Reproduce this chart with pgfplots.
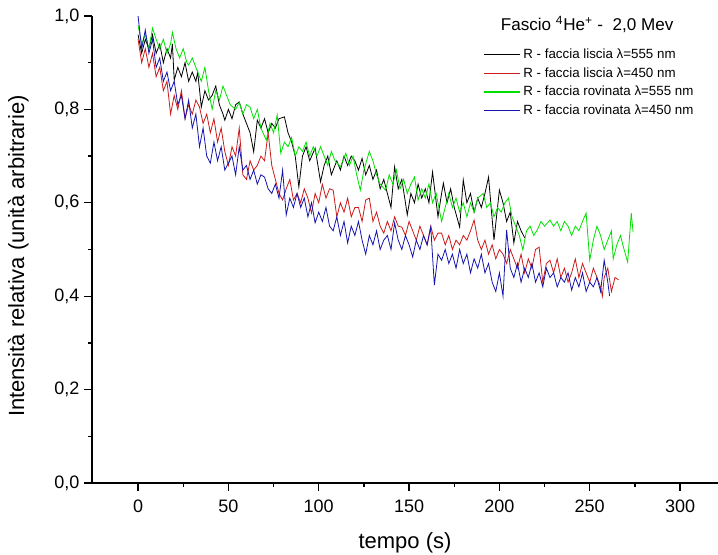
\documentclass[border=0pt]{standalone}
\usepackage{fontspec}
\setmainfont{Liberation Sans}
\usepackage{pgfplots}
\pgfplotsset{compat=1.18}
\definecolor{cblack}{RGB}{0,0,0}
\definecolor{cred}{RGB}{205,25,25}
\definecolor{cgreen}{RGB}{0,225,0}
\definecolor{cblue}{RGB}{20,20,175}
\begin{document}
\begin{tikzpicture}
\useasboundingbox (-69pt,-54pt) rectangle (469.5pt,362.25pt);
\begin{axis}[
  scale only axis, width=469.5pt, height=350.25pt,
  at={(0,0)}, anchor=south west,
  xmin=-25.5, xmax=321, ymin=0, ymax=1,
  axis x line*=bottom, axis y line*=left,
  axis line style={line width=1.2pt},
  xtick={0,50,100,150,200,250,300},
  ytick={0,0.2,0.4,0.6,0.8,1.0},
  minor x tick num=1, minor y tick num=1,
  xtick pos=left, ytick pos=left,
  tick align=outside,
  major tick length=6pt, minor tick length=3pt,
  every tick/.style={black, line width=1pt},
  /pgf/number format/assume math mode=true,
  yticklabel style={/pgf/number format/.cd, use comma, fixed, fixed zerofill, precision=1},
  ticklabel style={font=\fontsize{13.5}{15}\selectfont},
  xticklabel style={yshift=-3pt},
  xlabel={tempo (s)},
  ylabel={Intensità relativa (unità arbitrarie)},
  label style={font=\fontsize{16.5}{19}\selectfont},
  xlabel style={at={(axis description cs:0.5,0)}, anchor=north, yshift=-34pt},
  ylabel style={at={(axis description cs:0,0.5)}, anchor=south, yshift=44pt, xshift=-5pt},
  clip=false,
  legend style={at={(rel axis cs:0.625,0.936)}, anchor=north west, draw=none, fill=none,
    font=\fontsize{10}{11}\selectfont, row sep=1.3pt, inner sep=0pt},
  legend cell align=left,
  legend image code/.code={\draw[#1, line width=0.9pt] plot coordinates {(0pt,0pt) (27pt,0pt)};},
]
\addplot[cblack, line width=0.6pt] coordinates {
(0,0.96)(2,0.92)(4,0.95)(6,0.93)(8,0.96)(10,0.92)(12,0.94)(14,0.90)(16,0.93)(18,0.91)(19,0.94)(20,0.863)
(22,0.89)(24,0.87)(26,0.90)(28,0.86)(30,0.88)(32,0.86)(33,0.88)(35,0.805)(37,0.84)(39,0.82)(41,0.83)(43,0.85)
(45,0.81)(47,0.79)(48,0.777)(50,0.80)(52,0.78)(54,0.81)(56,0.816)(58,0.79)(60,0.77)(62,0.75)(64,0.709)(66,0.777)
(68,0.76)(70,0.78)(72,0.75)(74,0.77)(76,0.76)(78,0.78)(81,0.784)(83,0.75)(85,0.73)(87,0.70)(89,0.634)(91,0.70)
(93,0.72)(95,0.69)(98,0.717)(101,0.645)(103,0.68)(105,0.70)(107,0.66)(110,0.69)(112,0.67)(114,0.70)(116,0.68)
(118,0.70)(120,0.69)(122,0.67)(124,0.695)(126,0.66)(128,0.68)(130,0.65)(132,0.67)(134,0.63)(136,0.65)(138,0.62)
(140,0.59)(142,0.677)(144,0.63)(146,0.65)(148,0.60)(149,0.574)(151,0.62)(153,0.60)(155,0.64)(157,0.61)(159,0.63)
(161,0.60)(163,0.666)(166,0.57)(168,0.62)(169,0.642)(171,0.60)(173,0.63)(175,0.59)(178,0.548)(180,0.649)(182,0.60)
(184,0.62)(186,0.58)(188,0.61)(190,0.59)(192,0.62)(194,0.655)(197,0.52)(200,0.627)(202,0.60)(204,0.56)(206,0.58)
(208,0.514)(210,0.56)(212,0.54)(214,0.525)
};
\addlegendentry{R - faccia liscia λ=555 nm}
\addplot[cred, line width=0.6pt] coordinates {
(0,0.95)(2,0.90)(4,0.93)(6,0.89)(8,0.92)(10,0.87)(12,0.89)(14,0.84)(16,0.86)(18,0.79)(20,0.83)(22,0.80)(24,0.84)
(26,0.78)(28,0.81)(30,0.79)(32,0.82)(34,0.805)(36,0.77)(38,0.79)(40,0.75)(42,0.78)(44,0.73)(46,0.76)(48,0.71)
(50,0.68)(52,0.72)(54,0.70)(56,0.76)(58,0.66)(60,0.65)(62,0.69)(64,0.67)(66,0.68)(68,0.70)(70,0.69)(72,0.75)
(74,0.68)(76,0.65)(78,0.62)(80,0.606)(82,0.63)(84,0.65)(86,0.606)(88,0.62)(90,0.60)(92,0.63)(94,0.61)(96,0.578)
(98,0.62)(100,0.60)(102,0.64)(104,0.61)(106,0.63)(108,0.627)(110,0.57)(112,0.60)(114,0.58)(116,0.61)(118,0.57)
(120,0.59)(122,0.59)(124,0.56)(126,0.606)(128,0.61)(130,0.56)(132,0.58)(134,0.55)(136,0.535)(138,0.56)(140,0.54)
(142,0.57)(144,0.55)(146,0.548)(148,0.53)(150,0.56)(152,0.54)(154,0.52)(156,0.55)(158,0.53)(160,0.51)(162,0.55)
(164,0.52)(166,0.535)(168,0.535)(170,0.51)(172,0.53)(174,0.50)(176,0.52)(178,0.51)(180,0.53)(182,0.52)(184,0.54)
(186,0.563)(188,0.52)(190,0.50)(192,0.52)(194,0.49)(196,0.51)(198,0.48)(200,0.50)(202,0.49)(204,0.47)(206,0.50)
(208,0.48)(210,0.46)(212,0.49)(214,0.45)(216,0.48)(218,0.46)(220,0.50)(222,0.505)(224,0.43)(226,0.47)(228,0.477)
(230,0.45)(232,0.48)(234,0.44)(236,0.46)(238,0.43)(240,0.45)(242,0.48)(244,0.44)(246,0.47)(248,0.45)(250,0.43)
(252,0.46)(254,0.44)(256,0.42)(257,0.40)(258,0.44)(260,0.46)(262,0.41)(264,0.44)(266,0.435)
};
\addlegendentry{R - faccia liscia λ=450 nm}
\addplot[cgreen, line width=0.6pt] coordinates {
(0,0.98)(2,0.94)(4,0.96)(6,0.93)(8,0.974)(10,0.95)(12,0.93)(14,0.95)(16,0.92)(18,0.94)(19,0.965)(21,0.93)
(23,0.91)(25,0.93)(27,0.90)(28,0.895)(30,0.91)(33,0.88)(35,0.86)(37,0.89)(39,0.84)(41,0.80)(43,0.84)(45,0.82)
(47,0.85)(49,0.83)(51,0.81)(54,0.80)(56,0.815)(58,0.79)(60,0.81)(62,0.805)(64,0.78)(66,0.80)(68,0.76)(71,0.734)
(73,0.77)(75,0.75)(77,0.788)(79,0.706)(81,0.73)(83,0.72)(85,0.74)(87,0.70)(89,0.72)(91,0.71)(93,0.73)(95,0.70)
(97,0.72)(99,0.70)(101,0.72)(103,0.70)(105,0.68)(107,0.71)(109,0.69)(112,0.677)(115,0.706)(117,0.68)(119,0.70)
(121,0.66)(123,0.627)(125,0.67)(128,0.71)(130,0.69)(132,0.66)(134,0.64)(137,0.627)(139,0.66)(141,0.64)(143,0.67)
(145,0.63)(147,0.65)(149,0.62)(151,0.64)(153,0.655)(155,0.606)(157,0.63)(159,0.61)(161,0.64)(163,0.60)(165,0.62)
(168,0.56)(170,0.59)(172,0.62)(174,0.59)(176,0.61)(178,0.58)(180,0.60)(182,0.57)(184,0.60)(186,0.58)(188,0.61)
(191,0.62)(193,0.59)(195,0.60)(197,0.57)(199,0.59)(201,0.58)(203,0.60)(205,0.61)(207,0.57)(209,0.55)(211,0.53)
(213,0.499)(215,0.54)(217,0.55)(219,0.53)(221,0.542)(223,0.56)(225,0.55)(228,0.563)(230,0.55)(232,0.56)(234,0.54)
(236,0.56)(238,0.55)(240,0.53)(242,0.55)(244,0.54)(246,0.56)(248,0.578)(250,0.477)(252,0.52)(254,0.55)(256,0.53)
(258,0.50)(260,0.52)(262,0.54)(263,0.48)(265,0.51)(267,0.53)(269,0.50)(271,0.473)(273,0.578)(274,0.537)
};
\addlegendentry{R - faccia rovinata λ=555 nm}
\addplot[cblue, line width=0.6pt] coordinates {
(0,1.00)(2,0.93)(4,0.97)(6,0.92)(8,0.95)(10,0.89)(12,0.91)(14,0.86)(16,0.88)(18,0.84)(20,0.86)(22,0.81)(24,0.83)
(26,0.78)(28,0.82)(30,0.76)(32,0.79)(34,0.72)(36,0.76)(38,0.70)(40,0.685)(42,0.73)(44,0.69)(46,0.72)(48,0.67)
(50,0.685)(52,0.70)(54,0.66)(56,0.72)(58,0.67)(60,0.68)(62,0.65)(64,0.67)(66,0.64)(68,0.66)(70,0.655)(72,0.63)
(74,0.62)(76,0.64)(78,0.61)(80,0.67)(82,0.574)(84,0.61)(86,0.59)(88,0.62)(90,0.59)(92,0.61)(94,0.57)(96,0.60)
(98,0.557)(100,0.58)(102,0.56)(104,0.59)(106,0.55)(108,0.54)(110,0.57)(112,0.53)(114,0.56)(116,0.514)(118,0.55)
(120,0.53)(122,0.56)(124,0.52)(126,0.49)(128,0.53)(130,0.51)(132,0.54)(134,0.50)(136,0.52)(138,0.53)(140,0.50)
(142,0.557)(144,0.52)(146,0.50)(148,0.53)(150,0.51)(152,0.484)(154,0.52)(156,0.50)(158,0.53)(160,0.51)(162,0.548)
(164,0.424)(166,0.49)(168,0.477)(170,0.50)(172,0.47)(174,0.49)(176,0.46)(178,0.50)(180,0.47)(182,0.49)(184,0.45)
(186,0.48)(188,0.46)(190,0.49)(192,0.45)(194,0.47)(196,0.43)(198,0.41)(200,0.45)(202,0.40)(204,0.542)(206,0.46)
(208,0.44)(210,0.47)(212,0.43)(214,0.46)(216,0.44)(218,0.47)(220,0.43)(222,0.45)(224,0.42)(226,0.46)(228,0.44)
(230,0.45)(232,0.42)(234,0.44)(236,0.43)(238,0.45)(240,0.413)(242,0.44)(244,0.42)(246,0.45)(248,0.41)(250,0.43)
(252,0.42)(254,0.44)(256,0.41)(258,0.477)(260,0.43)(261,0.40)
};
\addlegendentry{R - faccia rovinata λ=450 nm}
\node[font=\fontsize{12.8}{14}\selectfont] at (rel axis cs:0.791,0.981) {Fascio \textsuperscript{4}He\textsuperscript{+} -\ \ 2,0 Mev};
\end{axis}
\end{tikzpicture}
\end{document}
